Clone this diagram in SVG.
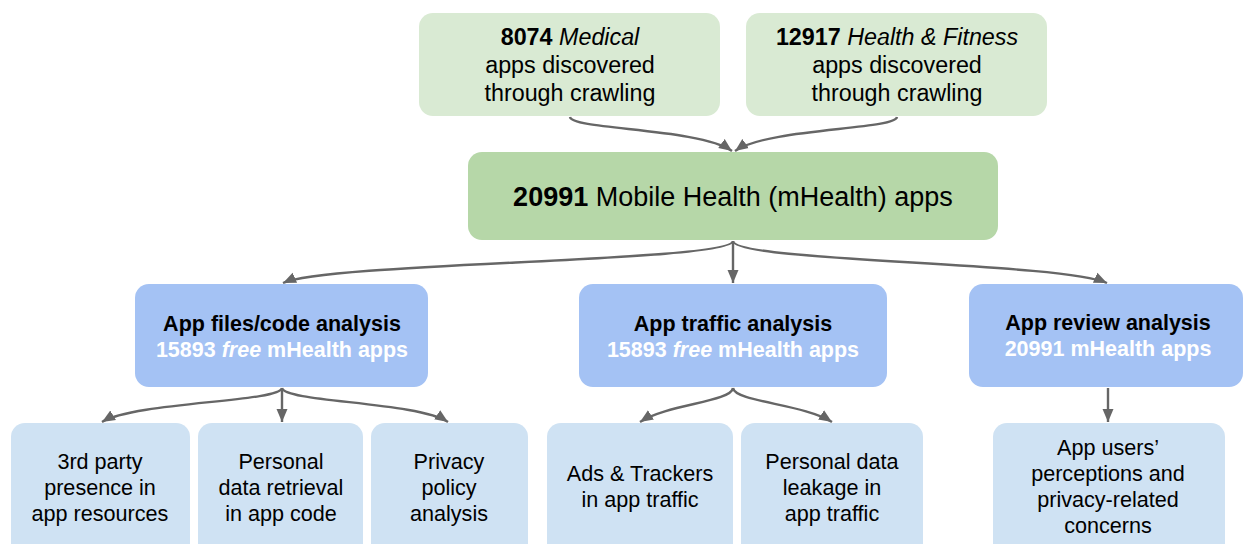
<svg xmlns="http://www.w3.org/2000/svg" width="1243" height="544" viewBox="0 0 1243 544">
  <style>
    text { font-family: "Liberation Sans", Arial, sans-serif; fill: #000000; text-anchor: middle; }
    .src { fill: #d9ead3; }
    .all { fill: #b6d7a8; }
    .ana { fill: #a4c2f4; }
    .res { fill: #cfe2f3; }
    .t23 { font-size: 23.3px; }
    .t27 { font-size: 27px; }
    .h { font-size: 21.5px; font-weight: bold; }
    .sub { fill: #ffffff; }
    .t21 { font-size: 21.6px; }
    .conn { fill: none; stroke: #666666; stroke-width: 2.4; marker-end: url(#head); }
  </style>
  <defs>
    <marker id="head" markerUnits="userSpaceOnUse" markerWidth="14" markerHeight="12" refX="13" refY="6" orient="auto">
      <path d="M0,0.5 L13,6 L0,11.5 z" fill="#666666"/>
    </marker>
  </defs>
  <rect width="1243" height="544" fill="#ffffff"/>

  <!-- Sources -->
  <g id="medical">
    <rect class="src" x="419" y="13" width="301" height="103" rx="14"/>
    <text class="t23" x="570" y="45"><tspan font-weight="bold">8074</tspan> <tspan font-style="italic">Medical</tspan></text>
    <text class="t23" x="570" y="73">apps discovered</text>
    <text class="t23" x="570" y="101">through crawling</text>
  </g>
  <g id="fitness">
    <rect class="src" x="746" y="13" width="301" height="103" rx="14"/>
    <text class="t23" x="897" y="45"><tspan font-weight="bold">12917</tspan> <tspan font-style="italic">Health &amp; Fitness</tspan></text>
    <text class="t23" x="897" y="73">apps discovered</text>
    <text class="t23" x="897" y="101">through crawling</text>
  </g>

  <!-- Combined set -->
  <g id="mhealth">
    <rect class="all" x="468" y="152" width="530" height="88" rx="14"/>
    <text class="t27" x="733" y="206"><tspan font-weight="bold">20991</tspan> Mobile Health (mHealth) apps</text>
  </g>

  <!-- Analyses -->
  <g id="files">
    <rect class="ana" x="135" y="284" width="293" height="103" rx="14"/>
    <text class="h" x="282" y="331">App files/code analysis</text>
    <text class="h sub" x="282" y="357">15893 <tspan font-style="italic">free</tspan> mHealth apps</text>
  </g>
  <g id="traffic">
    <rect class="ana" x="579" y="284" width="308" height="103" rx="14"/>
    <text class="h" x="733" y="331">App traffic analysis</text>
    <text class="h sub" x="733" y="357">15893 <tspan font-style="italic">free</tspan> mHealth apps</text>
  </g>
  <g id="review">
    <rect class="ana" x="969" y="284" width="274" height="103" rx="14"/>
    <text class="h" x="1108" y="330">App review analysis</text>
    <text class="h sub" x="1108" y="356">20991 mHealth apps</text>
  </g>

  <!-- Results -->
  <g id="third-party">
    <rect class="res" x="11" y="423" width="179" height="140" rx="14"/>
    <text class="t21" x="100" y="469">3rd party</text>
    <text class="t21" x="100" y="495">presence in</text>
    <text class="t21" x="100" y="521">app resources</text>
  </g>
  <g id="data-retrieval">
    <rect class="res" x="198" y="423" width="165" height="140" rx="14"/>
    <text class="t21" x="281" y="469">Personal</text>
    <text class="t21" x="281" y="495">data retrieval</text>
    <text class="t21" x="281" y="521">in app code</text>
  </g>
  <g id="privacy-policy">
    <rect class="res" x="371" y="423" width="157" height="140" rx="14"/>
    <text class="t21" x="449" y="469">Privacy</text>
    <text class="t21" x="449" y="495">policy</text>
    <text class="t21" x="449" y="521">analysis</text>
  </g>
  <g id="ads-trackers">
    <rect class="res" x="547" y="423" width="186" height="140" rx="14"/>
    <text class="t21" x="640" y="481">Ads &amp; Trackers</text>
    <text class="t21" x="640" y="507">in app traffic</text>
  </g>
  <g id="data-leakage">
    <rect class="res" x="741" y="423" width="182" height="140" rx="14"/>
    <text class="t21" x="832" y="469">Personal data</text>
    <text class="t21" x="832" y="495">leakage in</text>
    <text class="t21" x="832" y="521">app traffic</text>
  </g>
  <g id="user-perceptions">
    <rect class="res" x="993" y="423" width="232" height="140" rx="14"/>
    <text class="t21" x="1108" y="455">App users’</text>
    <text class="t21" x="1108" y="481">perceptions and</text>
    <text class="t21" x="1108" y="507">privacy-related</text>
    <text class="t21" x="1108" y="533">concerns</text>
  </g>

  <!-- Connectors -->
  <g id="connectors">
    <path class="conn" d="M570,117 C572,130 700,128 732,151"/>
    <path class="conn" d="M897,117 C895,130 767,128 735,151"/>
    <path class="conn" d="M733,241 C731,262 330,262 283,283"/>
    <path class="conn" d="M733,241 L733,283"/>
    <path class="conn" d="M733,241 C735,262 1060,262 1107,283"/>
    <path class="conn" d="M282,388 C280,402 135,402 102,422"/>
    <path class="conn" d="M282,388 L282,422"/>
    <path class="conn" d="M282,388 C284,402 418,402 448,422"/>
    <path class="conn" d="M733,388 C731,402 668,404 640,422"/>
    <path class="conn" d="M733,388 C735,402 804,404 832,422"/>
    <path class="conn" d="M1108,388 L1108,422"/>
  </g>
</svg>
